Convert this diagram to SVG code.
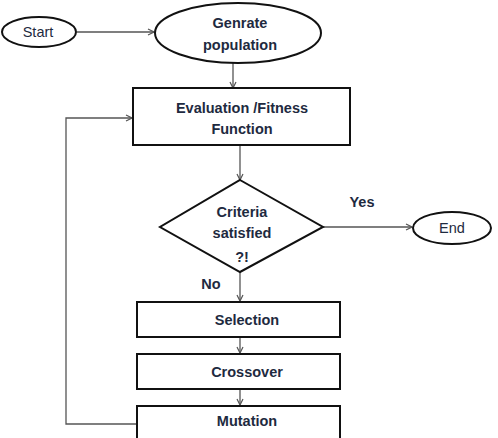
<svg xmlns="http://www.w3.org/2000/svg" width="498" height="438" viewBox="0 0 498 438">
<defs>
<marker id="ah" markerWidth="8" markerHeight="8" refX="7" refY="4" orient="auto" markerUnits="userSpaceOnUse">
<path d="M1,1 L7,4 L1,7" fill="none" stroke="#555" stroke-width="1.2"/>
</marker>
<style>
.shape{fill:#fff;stroke:#111;stroke-width:2}
.t{font-family:"Liberation Sans",Arial,sans-serif;font-weight:bold;font-size:14.5px;fill:#1e2a40;text-anchor:middle}
.n{font-weight:normal}
.c{fill:none;stroke:#555;stroke-width:1.3}
</style>
</defs>
<rect width="498" height="438" fill="#fff"/>
<g id="connectors">
<line class="c" x1="77" y1="32" x2="154" y2="32" marker-end="url(#ah)"/>
<line class="c" x1="233" y1="63" x2="233" y2="88" marker-end="url(#ah)"/>
<line class="c" x1="240" y1="145" x2="240" y2="180" marker-end="url(#ah)"/>
<line class="c" x1="323" y1="227" x2="412" y2="227" marker-end="url(#ah)"/>
<line class="c" x1="240" y1="272" x2="240" y2="301" marker-end="url(#ah)"/>
<line class="c" x1="240" y1="337" x2="240" y2="353" marker-end="url(#ah)"/>
<line class="c" x1="240" y1="389" x2="240" y2="405" marker-end="url(#ah)"/>
<polyline class="c" points="137,424 66,424 66,118 132,118" marker-end="url(#ah)"/>
<text class="t" x="362" y="207">Yes</text>
<text class="t" x="211" y="289">No</text>
</g>
<g id="start">
<ellipse class="shape" cx="39" cy="32" rx="37" ry="15"/>
<text class="t n" x="38" y="37">Start</text>
</g>
<g id="generate">
<ellipse class="shape" cx="238" cy="33" rx="83" ry="30"/>
<text class="t" x="240" y="28">Genrate</text>
<text class="t" x="240" y="50">population</text>
</g>
<g id="evaluation">
<rect class="shape" x="133" y="88" width="217" height="57"/>
<text class="t" x="242" y="113">Evaluation /Fitness</text>
<text class="t" x="242" y="134">Function</text>
</g>
<g id="criteria">
<polygon class="shape" points="240,180 323,227 240,272 160,227"/>
<text class="t" x="242" y="217">Criteria</text>
<text class="t" x="242" y="238">satisfied</text>
<text class="t" x="242" y="262">?!</text>
</g>
<g id="end">
<ellipse class="shape" cx="452" cy="228" rx="39" ry="16"/>
<text class="t n" x="452" y="233">End</text>
</g>
<g id="selection">
<rect class="shape" x="137" y="302" width="203" height="35"/>
<text class="t" x="247" y="325">Selection</text>
</g>
<g id="crossover">
<rect class="shape" x="137" y="354" width="203" height="35"/>
<text class="t" x="247" y="377">Crossover</text>
</g>
<g id="mutation">
<rect class="shape" x="137" y="406" width="203" height="40"/>
<text class="t" x="247" y="426">Mutation</text>
</g>
</svg>
